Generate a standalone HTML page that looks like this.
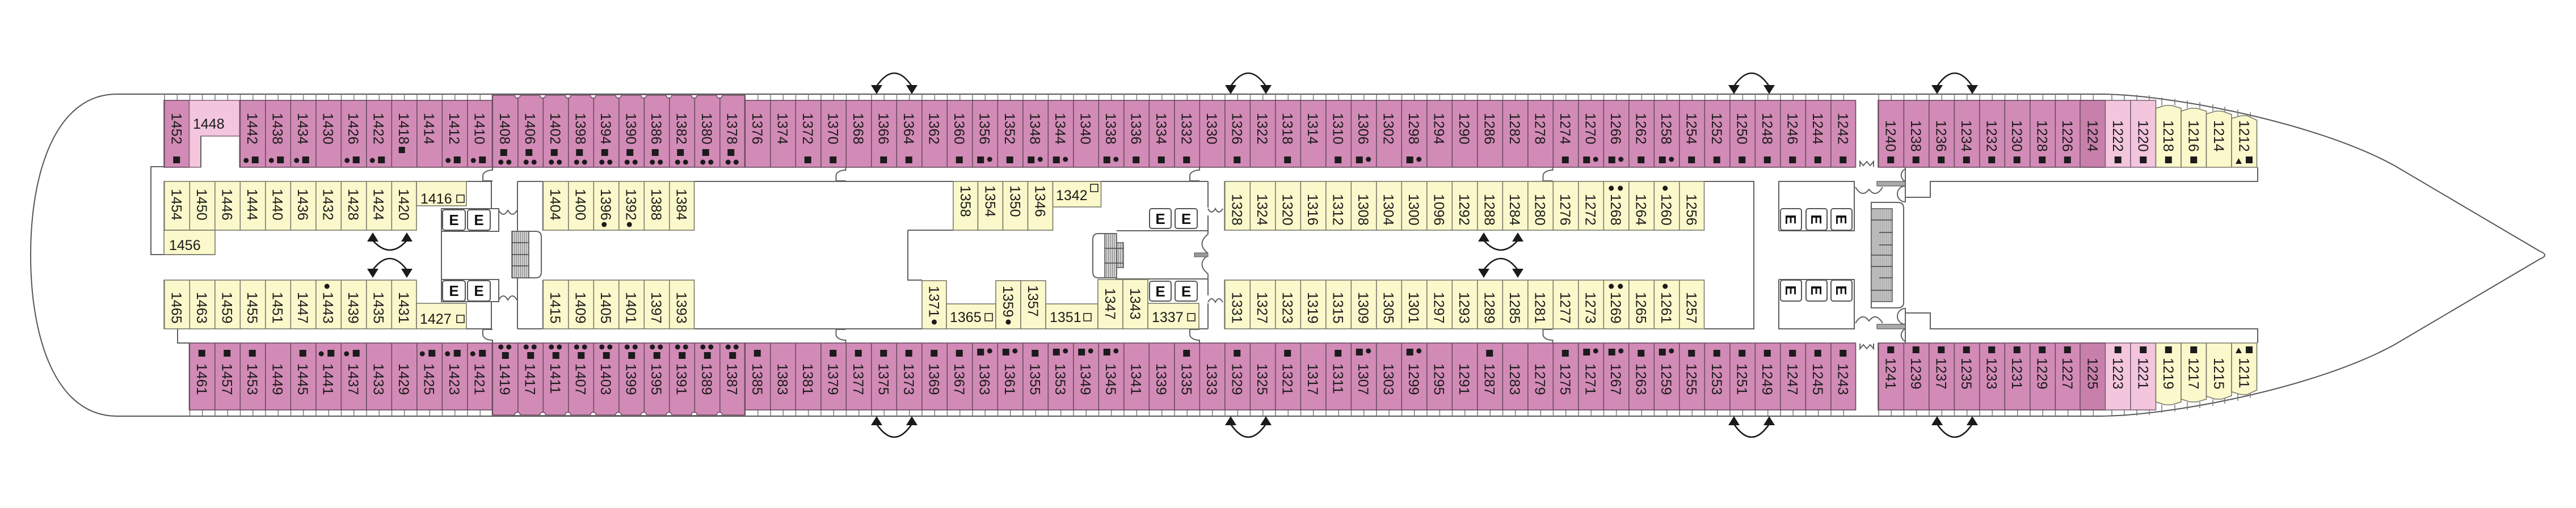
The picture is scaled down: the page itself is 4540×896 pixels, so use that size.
<!DOCTYPE html>
<html><head><meta charset="utf-8"><style>
html,body{margin:0;padding:0;background:#fff}
svg{display:block}
text{font-family:"Liberation Sans",sans-serif;font-size:25px;fill:#1a1a1a}
.ps{stroke:#6a4b5f;stroke-width:1.6}
.lp{fill:#f3c6dd;stroke:#80657a;stroke-width:1.6}
.ys{stroke:#7a796b;stroke-width:1.6}
.yy{fill:#fbf8cb;stroke:#7a796b;stroke-width:1.6}
.w{fill:none;stroke:#606060;stroke-width:2}
.k{fill:#1b1b1b}
.eb{fill:#fff;stroke:#555;stroke-width:2}
.et{font-weight:bold;font-size:26px;fill:#111}
.ar{fill:none;stroke:#1a1a1a;stroke-width:2.6}
.ah{fill:#1a1a1a}
.nt{fill:#fff;stroke:#6a4b5f;stroke-width:1.5}
.sq{fill:none;stroke:#222;stroke-width:1.6}
</style></head><body>
<svg width="4540" height="896" viewBox="0 0 4540 896" xmlns="http://www.w3.org/2000/svg">
<defs>
<pattern id="tk" x="289" y="0" width="22.25" height="20" patternUnits="userSpaceOnUse"><path d="M1 0V20" stroke="#777" stroke-width="1.5"/></pattern>
<pattern id="tkb" x="3310" y="0" width="22.25" height="20" patternUnits="userSpaceOnUse"><path d="M1 0V20" stroke="#777" stroke-width="1.5"/></pattern>
<pattern id="pc" x="289" y="0" width="44.5" height="896" patternUnits="userSpaceOnUse"><rect width="44.5" height="896" fill="#d28bb6"/><path d="M.8 0V896" stroke="#6a4b5f" stroke-width="1.6"/></pattern>
<pattern id="pcb" x="3310" y="0" width="44.5" height="896" patternUnits="userSpaceOnUse"><rect width="44.5" height="896" fill="#d28bb6"/><path d="M.8 0V896" stroke="#6a4b5f" stroke-width="1.6"/></pattern>
<pattern id="yc" x="289" y="0" width="44.5" height="896" patternUnits="userSpaceOnUse"><rect width="44.5" height="896" fill="#fbf8cb"/><path d="M.8 0V896" stroke="#7a796b" stroke-width="1.6"/></pattern>
<pattern id="st" x="0" y="0" width="3.5" height="10" patternUnits="userSpaceOnUse"><rect width="3.5" height="10" fill="#d4d4d4"/><path d="M.5 0V10" stroke="#7a7a7a" stroke-width="1"/></pattern>
</defs>

<!-- hull -->
<path d="M206,166H3700C3820,166 4080,215 4220,292L4476,443Q4494,450 4476,457L4220,608C4080,685 3820,734 3700,734H206C100,734 54,600 54,450C54,300 100,166 206,166Z" fill="#fff" stroke="#555" stroke-width="2"/>

<!-- balcony ticks -->
<rect x="289" y="166" width="2981.5" height="11" fill="url(#tk)"/>
<rect x="3310" y="166" width="400.5" height="11" fill="url(#tkb)"/>
<rect x="333.5" y="723" width="2937" height="11" fill="url(#tk)"/>
<rect x="3310" y="723" width="400.5" height="11" fill="url(#tkb)"/>
<path d="M3722,166V177M3744,166V177M3766,167V177M3788,168V177M3810,172V186M3833,174V186M3855,177V191M3877,180V191M3900,184V196M3921,188V197M3944,193V205M3966,198V207M3722,734V723M3744,734V723M3766,733V723M3788,732V723M3810,728V714M3833,726V714M3855,723V709M3877,720V709M3900,716V704M3921,712V703M3944,707V695M3966,702V693" stroke="#777" stroke-width="1.5" fill="none"/>

<!-- structural lines -->
<path class="w" d="M289,294H266V449H379M313,580V605H333.5
M822,320H866V368M822,580H866V532M778,408V368H879V408H778M778,408V493M778,493H879V532H778Z
M912,320V408M912,490V580M912,320H956.5M912,580H956.5
M1223.5,320H1680M1223.5,580H1625M1600,406H1680M1600,406V494H1625
M1940.5,320H2129M1968,407H2129M1966,492H2129M2113,580H2129
M2129,320V366M2129,380V413M2129,483V521M2129,535V580
M3003.5,320H3091V580H3003.5
M3135,407V320H3268V407H3135M3135,493V580H3268V493H3135
M3358,295V357M3358,543V605M3358,348H3402V320H3979V295M3358,552H3402V580H3979V605
M868,295v5c-9,0-17,4-17,10v9h17M1490.5,295v5c-9,0-17,4-17,10v9h17M2114,295v5c-9,0-17,4-17,10v9h17M2736.5,295v5c-9,0-17,4-17,10v9h17
M868,605v-5c-9,0-17,-4-17,-10v-9h17M1490.5,605v-5c-9,0-17,-4-17,-10v-9h17M2114,605v-5c-9,0-17,-4-17,-10v-9h17M2736.5,605v-5c-9,0-17,-4-17,-10v-9h17
M879,371q8,14 16,0q8,14 16,0M879,529q8,-14 16,0q8,-14 16,0
M2129,368q6,12 13,0q6,12 13,0M2129,533q6,-12 13,0q6,-12 13,0M2129,413Q2108,430 2129,447M2129,450Q2108,466 2129,483
M3270,330q12,20 24,4q12,16 24,-4M3270,570q12,-20 24,-4q12,-16 24,4
M3358,298a12,12 0 0 0 0,22M3358,328a14,14 0 0 0 0,28M3358,544a14,14 0 0 0 0,28M3358,580a12,12 0 0 0 0,22
M3278,294v-9l6,7 6,-7 6,7 6,-7v9M3278,606v9l6,-7 6,7 6,-7 6,7v-9"/>
<rect x="2105" y="446" width="24" height="7" fill="#999" stroke="#555" stroke-width="1"/>
<rect x="3308" y="320" width="50" height="8" fill="#aaa" stroke="#555" stroke-width="1.2"/>
<rect x="3308" y="572" width="50" height="8" fill="#aaa" stroke="#555" stroke-width="1.2"/>

<!-- stairs -->
<path class="w" d="M902,408H944Q954,408 954,418V480Q954,490 944,490H902"/>
<rect x="902" y="408" width="30" height="82" fill="url(#st)" stroke="#555" stroke-width="1.5"/>
<path d="M902,428H932M902,449H932M902,469H932" stroke="#444" stroke-width="1.5"/>
<path class="w" d="M1968,412H1936Q1926,412 1926,422V480Q1926,490 1936,490H1968"/>
<rect x="1947" y="412" width="21" height="78" fill="url(#st)" stroke="#555" stroke-width="1.5"/>
<rect x="1968" y="428" width="12" height="44" fill="url(#st)" stroke="#555" stroke-width="1.5"/>
<path d="M1947,438H1980M1947,464H1980" stroke="#444" stroke-width="1.5"/>
<path class="w" d="M3298,357H3345Q3355,357 3355,367V533Q3355,543 3345,543H3298Z"/>
<rect x="3298" y="368" width="37" height="164" fill="url(#st)" stroke="#555" stroke-width="1.5"/>
<path d="M3298,388H3335M3312,410H3335M3312,432H3335M3298,450H3335M3298,470H3335M3312,490H3335M3298,512H3335" stroke="#444" stroke-width="1.5"/>

<!-- E boxes -->
<g>
<rect class="eb" x="780" y="370" width="40" height="36" rx="4"/><rect class="eb" x="824" y="370" width="40" height="36" rx="4"/>
<rect class="eb" x="780" y="495" width="40" height="36" rx="4"/><rect class="eb" x="824" y="495" width="40" height="36" rx="4"/>
<rect class="eb" x="2026" y="368" width="38" height="35" rx="4"/><rect class="eb" x="2071" y="368" width="39" height="35" rx="4"/>
<rect class="eb" x="2026" y="496" width="38" height="35" rx="4"/><rect class="eb" x="2071" y="496" width="39" height="35" rx="4"/>
<rect class="eb" x="3138" y="368" width="37" height="38" rx="4"/><rect class="eb" x="3183" y="368" width="37" height="38" rx="4"/><rect class="eb" x="3227" y="368" width="37" height="38" rx="4"/>
<rect class="eb" x="3138" y="494" width="37" height="37" rx="4"/><rect class="eb" x="3183" y="494" width="37" height="37" rx="4"/><rect class="eb" x="3227" y="494" width="37" height="37" rx="4"/>
<text class="et" x="800" y="397" text-anchor="middle">E</text><text class="et" x="844" y="397" text-anchor="middle">E</text>
<text class="et" x="800" y="522" text-anchor="middle">E</text><text class="et" x="844" y="522" text-anchor="middle">E</text>
<text class="et" x="2045" y="395" text-anchor="middle">E</text><text class="et" x="2090.5" y="395" text-anchor="middle">E</text>
<text class="et" x="2045" y="523" text-anchor="middle">E</text><text class="et" x="2090.5" y="523" text-anchor="middle">E</text>
<text class="et" transform="translate(3156.5 387)rotate(90)" text-anchor="middle" dy="9.3">E</text>
<text class="et" transform="translate(3201.5 387)rotate(90)" text-anchor="middle" dy="9.3">E</text>
<text class="et" transform="translate(3245.5 387)rotate(90)" text-anchor="middle" dy="9.3">E</text>
<text class="et" transform="translate(3156.5 512)rotate(90)" text-anchor="middle" dy="9.3">E</text>
<text class="et" transform="translate(3201.5 512)rotate(90)" text-anchor="middle" dy="9.3">E</text>
<text class="et" transform="translate(3245.5 512)rotate(90)" text-anchor="middle" dy="9.3">E</text>
</g>

<!-- pink rooms -->
<rect class="ps" x="289" y="177" width="44.5" height="118" fill="url(#pc)"/>
<path class="lp" d="M333.5,177H422.5V240H354V295H333.5Z"/>
<path class="w" d="M354,240V295M422.5,240V295"/>
<rect class="ps" x="422.5" y="177" width="445" height="118" fill="url(#pc)"/>
<rect class="ps" x="867.5" y="168" width="445" height="127" fill="url(#pc)"/>
<rect class="ps" x="1312.5" y="177" width="1958" height="118" fill="url(#pc)"/>
<rect class="ps" x="3310" y="177" width="400.5" height="118" fill="url(#pcb)"/>
<rect class="ps" x="3666" y="177" width="44.5" height="118" fill="#c87fab"/>
<rect class="lp" x="3710.5" y="177" width="44.5" height="118"/>
<rect class="lp" x="3755" y="177" width="44.5" height="118"/>
<polygon class="yy" points="3799.5,295 3799.5,191 3816,186 3827,186 3844,191 3844,295"/>
<polygon class="yy" points="3844,295 3844,196 3860.5,191 3871.5,191 3888.5,196 3888.5,295"/>
<polygon class="yy" points="3888.5,295 3888.5,201 3905,196 3916,196 3933,202 3933,295"/>
<polygon class="yy" points="3933,295 3933,209 3949.5,204 3960.5,204 3977.5,212 3977.5,295"/>

<rect class="ps" x="333.5" y="605" width="534" height="118" fill="url(#pc)"/>
<rect class="ps" x="867.5" y="605" width="445" height="127" fill="url(#pc)"/>
<rect class="ps" x="1312.5" y="605" width="1958" height="118" fill="url(#pc)"/>
<rect class="ps" x="3310" y="605" width="400.5" height="118" fill="url(#pcb)"/>
<rect class="ps" x="3666" y="605" width="44.5" height="118" fill="#c87fab"/>
<rect class="lp" x="3710.5" y="605" width="44.5" height="118"/>
<rect class="lp" x="3755" y="605" width="44.5" height="118"/>
<polygon class="yy" points="3799.5,605 3799.5,709 3816,714 3827,714 3844,709 3844,605"/>
<polygon class="yy" points="3844,605 3844,704 3860.5,709 3871.5,709 3888.5,704 3888.5,605"/>
<polygon class="yy" points="3888.5,605 3888.5,699 3905,704 3916,704 3933,698 3933,605"/>
<polygon class="yy" points="3933,605 3933,691 3949.5,696 3960.5,696 3977.5,688 3977.5,605"/>

<!-- tall room notches -->
<path class="nt" d="M907,168a5,5 0 0 0 10,0M951.5,168a5,5 0 0 0 10,0M996,168a5,5 0 0 0 10,0M1040.5,168a5,5 0 0 0 10,0M1085,168a5,5 0 0 0 10,0M1129.5,168a5,5 0 0 0 10,0M1174,168a5,5 0 0 0 10,0M1218.5,168a5,5 0 0 0 10,0M1263,168a5,5 0 0 0 10,0"/>
<path class="nt" d="M907,732a5,5 0 0 1 10,0M951.5,732a5,5 0 0 1 10,0M996,732a5,5 0 0 1 10,0M1040.5,732a5,5 0 0 1 10,0M1085,732a5,5 0 0 1 10,0M1129.5,732a5,5 0 0 1 10,0M1174,732a5,5 0 0 1 10,0M1218.5,732a5,5 0 0 1 10,0M1263,732a5,5 0 0 1 10,0"/>

<!-- yellow rooms -->
<rect class="ys" x="289" y="320" width="445" height="86" fill="url(#yc)"/>
<rect class="yy" x="734" y="320" width="88" height="43"/>
<rect class="ys" x="956.5" y="320" width="267" height="86" fill="url(#yc)"/>
<rect class="ys" x="2158" y="320" width="845.5" height="86" fill="url(#yc)"/>
<rect class="ys" x="289" y="494" width="445" height="86" fill="url(#yc)"/>
<rect class="yy" x="734" y="535" width="88" height="45"/>
<rect class="ys" x="956.5" y="494" width="267" height="86" fill="url(#yc)"/>
<rect class="ys" x="2158" y="494" width="845.5" height="86" fill="url(#yc)"/>
<rect class="yy" x="289" y="406" width="90" height="43"/>
<rect class="yy" x="1680" y="320" width="43.5" height="86"/>
<rect class="yy" x="1723.5" y="320" width="44" height="86"/>
<rect class="yy" x="1767.5" y="320" width="44" height="86"/>
<rect class="yy" x="1811.5" y="320" width="44" height="86"/>
<rect class="yy" x="1855.5" y="320" width="85" height="45"/>
<rect class="yy" x="1625" y="495" width="43" height="85"/>
<rect class="yy" x="1668" y="536" width="87" height="44"/>
<rect class="yy" x="1755" y="495" width="44" height="85"/>
<rect class="yy" x="1799" y="495" width="44" height="85"/>
<rect class="yy" x="1843" y="536" width="92" height="44"/>
<rect class="yy" x="1935" y="493" width="44" height="87"/>
<rect class="yy" x="1979" y="493" width="44" height="87"/>
<rect class="yy" x="2023" y="535" width="90" height="45"/>

<!-- horizontal labels -->
<text x="340" y="227">1448</text>
<text x="298" y="441">1456</text>
<text x="741" y="359">1416</text><rect class="sq" x="805" y="344" width="13" height="13"/>
<text x="740" y="571">1427</text><rect class="sq" x="805" y="556" width="13" height="13"/>
<text x="1861" y="353">1342</text><rect class="sq" x="1922" y="325" width="13" height="13"/>
<text x="1674" y="568">1365</text><rect class="sq" x="1736" y="553" width="13" height="13"/>
<text x="1850" y="568">1351</text><rect class="sq" x="1910" y="553" width="13" height="13"/>
<text x="2030" y="568">1337</text><rect class="sq" x="2093" y="553" width="13" height="13"/>

<!-- upper pink numbers -->
<g transform="translate(0 199)">
<text transform="translate(302.25)rotate(90)">1452</text>
<text transform="translate(435.75)rotate(90)">1442</text>
<text transform="translate(480.25)rotate(90)">1438</text>
<text transform="translate(524.75)rotate(90)">1434</text>
<text transform="translate(569.25)rotate(90)">1430</text>
<text transform="translate(613.75)rotate(90)">1426</text>
<text transform="translate(658.25)rotate(90)">1422</text>
<text transform="translate(702.75)rotate(90)">1418</text>
<text transform="translate(747.25)rotate(90)">1414</text>
<text transform="translate(791.75)rotate(90)">1412</text>
<text transform="translate(836.25)rotate(90)">1410</text>
<text transform="translate(880.75)rotate(90)">1408</text>
<text transform="translate(925.25)rotate(90)">1406</text>
<text transform="translate(969.75)rotate(90)">1402</text>
<text transform="translate(1014.25)rotate(90)">1398</text>
<text transform="translate(1058.75)rotate(90)">1394</text>
<text transform="translate(1103.25)rotate(90)">1390</text>
<text transform="translate(1147.75)rotate(90)">1386</text>
<text transform="translate(1192.25)rotate(90)">1382</text>
<text transform="translate(1236.75)rotate(90)">1380</text>
<text transform="translate(1281.25)rotate(90)">1378</text>
<text transform="translate(1325.75)rotate(90)">1376</text>
<text transform="translate(1370.25)rotate(90)">1374</text>
<text transform="translate(1414.75)rotate(90)">1372</text>
<text transform="translate(1459.25)rotate(90)">1370</text>
<text transform="translate(1503.75)rotate(90)">1368</text>
<text transform="translate(1548.25)rotate(90)">1366</text>
<text transform="translate(1592.75)rotate(90)">1364</text>
<text transform="translate(1637.25)rotate(90)">1362</text>
<text transform="translate(1681.75)rotate(90)">1360</text>
<text transform="translate(1726.25)rotate(90)">1356</text>
<text transform="translate(1770.75)rotate(90)">1352</text>
<text transform="translate(1815.25)rotate(90)">1348</text>
<text transform="translate(1859.75)rotate(90)">1344</text>
<text transform="translate(1904.25)rotate(90)">1340</text>
<text transform="translate(1948.75)rotate(90)">1338</text>
<text transform="translate(1993.25)rotate(90)">1336</text>
<text transform="translate(2037.75)rotate(90)">1334</text>
<text transform="translate(2082.25)rotate(90)">1332</text>
<text transform="translate(2126.75)rotate(90)">1330</text>
<text transform="translate(2171.25)rotate(90)">1326</text>
<text transform="translate(2215.75)rotate(90)">1322</text>
<text transform="translate(2260.25)rotate(90)">1318</text>
<text transform="translate(2304.75)rotate(90)">1314</text>
<text transform="translate(2349.25)rotate(90)">1310</text>
<text transform="translate(2393.75)rotate(90)">1306</text>
<text transform="translate(2438.25)rotate(90)">1302</text>
<text transform="translate(2482.75)rotate(90)">1298</text>
<text transform="translate(2527.25)rotate(90)">1294</text>
<text transform="translate(2571.75)rotate(90)">1290</text>
<text transform="translate(2616.25)rotate(90)">1286</text>
<text transform="translate(2660.75)rotate(90)">1282</text>
<text transform="translate(2705.25)rotate(90)">1278</text>
<text transform="translate(2749.75)rotate(90)">1274</text>
<text transform="translate(2794.25)rotate(90)">1270</text>
<text transform="translate(2838.75)rotate(90)">1266</text>
<text transform="translate(2883.25)rotate(90)">1262</text>
<text transform="translate(2927.75)rotate(90)">1258</text>
<text transform="translate(2972.25)rotate(90)">1254</text>
<text transform="translate(3016.75)rotate(90)">1252</text>
<text transform="translate(3061.25)rotate(90)">1250</text>
<text transform="translate(3105.75)rotate(90)">1248</text>
<text transform="translate(3150.25)rotate(90)">1246</text>
<text transform="translate(3194.75)rotate(90)">1244</text>
<text transform="translate(3239.25)rotate(90)">1242</text>
</g>
<g transform="translate(0 212)">
<text transform="translate(3323.25)rotate(90)">1240</text>
<text transform="translate(3367.75)rotate(90)">1238</text>
<text transform="translate(3412.25)rotate(90)">1236</text>
<text transform="translate(3456.75)rotate(90)">1234</text>
<text transform="translate(3501.25)rotate(90)">1232</text>
<text transform="translate(3545.75)rotate(90)">1230</text>
<text transform="translate(3590.25)rotate(90)">1228</text>
<text transform="translate(3634.75)rotate(90)">1226</text>
<text transform="translate(3679.25)rotate(90)">1224</text>
<text transform="translate(3723.75)rotate(90)">1222</text>
<text transform="translate(3768.25)rotate(90)">1220</text>
<text transform="translate(3812.75)rotate(90)">1218</text>
<text transform="translate(3857.25)rotate(90)">1216</text>
<text transform="translate(3901.75)rotate(90)">1214</text>
<text transform="translate(3946.25)rotate(90)">1212</text>
</g>

<!-- upper yellow numbers -->
<g transform="translate(0 333)">
<text transform="translate(302.25)rotate(90)">1454</text>
<text transform="translate(346.75)rotate(90)">1450</text>
<text transform="translate(391.25)rotate(90)">1446</text>
<text transform="translate(435.75)rotate(90)">1444</text>
<text transform="translate(480.25)rotate(90)">1440</text>
<text transform="translate(524.75)rotate(90)">1436</text>
<text transform="translate(569.25)rotate(90)">1432</text>
<text transform="translate(613.75)rotate(90)">1428</text>
<text transform="translate(658.25)rotate(90)">1424</text>
<text transform="translate(702.75)rotate(90)">1420</text>
<text transform="translate(969.75)rotate(90)">1404</text>
<text transform="translate(1014.25)rotate(90)">1400</text>
<text transform="translate(1058.75)rotate(90)">1396</text>
<text transform="translate(1103.25)rotate(90)">1392</text>
<text transform="translate(1147.75)rotate(90)">1388</text>
<text transform="translate(1192.25)rotate(90)">1384</text>
</g>
<g transform="translate(0 327)">
<text transform="translate(1692.75)rotate(90)">1358</text>
<text transform="translate(1736.5)rotate(90)">1354</text>
<text transform="translate(1780.5)rotate(90)">1350</text>
<text transform="translate(1824.5)rotate(90)">1346</text>
</g>
<g transform="translate(0 342)">
<text transform="translate(2171.25)rotate(90)">1328</text>
<text transform="translate(2215.75)rotate(90)">1324</text>
<text transform="translate(2260.25)rotate(90)">1320</text>
<text transform="translate(2304.75)rotate(90)">1316</text>
<text transform="translate(2349.25)rotate(90)">1312</text>
<text transform="translate(2393.75)rotate(90)">1308</text>
<text transform="translate(2438.25)rotate(90)">1304</text>
<text transform="translate(2482.75)rotate(90)">1300</text>
<text transform="translate(2527.25)rotate(90)">1096</text>
<text transform="translate(2571.75)rotate(90)">1292</text>
<text transform="translate(2616.25)rotate(90)">1288</text>
<text transform="translate(2660.75)rotate(90)">1284</text>
<text transform="translate(2705.25)rotate(90)">1280</text>
<text transform="translate(2749.75)rotate(90)">1276</text>
<text transform="translate(2794.25)rotate(90)">1272</text>
<text transform="translate(2838.75)rotate(90)">1268</text>
<text transform="translate(2883.25)rotate(90)">1264</text>
<text transform="translate(2927.75)rotate(90)">1260</text>
<text transform="translate(2972.25)rotate(90)">1256</text>
</g>

<!-- lower yellow numbers -->
<g transform="translate(0 515)">
<text transform="translate(302.25)rotate(90)">1465</text>
<text transform="translate(346.75)rotate(90)">1463</text>
<text transform="translate(391.25)rotate(90)">1459</text>
<text transform="translate(435.75)rotate(90)">1455</text>
<text transform="translate(480.25)rotate(90)">1451</text>
<text transform="translate(524.75)rotate(90)">1447</text>
<text transform="translate(569.25)rotate(90)">1443</text>
<text transform="translate(613.75)rotate(90)">1439</text>
<text transform="translate(658.25)rotate(90)">1435</text>
<text transform="translate(702.75)rotate(90)">1431</text>
<text transform="translate(969.75)rotate(90)">1415</text>
<text transform="translate(1014.25)rotate(90)">1409</text>
<text transform="translate(1058.75)rotate(90)">1405</text>
<text transform="translate(1103.25)rotate(90)">1401</text>
<text transform="translate(1147.75)rotate(90)">1397</text>
<text transform="translate(1192.25)rotate(90)">1393</text>
<text transform="translate(2171.25)rotate(90)">1331</text>
<text transform="translate(2215.75)rotate(90)">1327</text>
<text transform="translate(2260.25)rotate(90)">1323</text>
<text transform="translate(2304.75)rotate(90)">1319</text>
<text transform="translate(2349.25)rotate(90)">1315</text>
<text transform="translate(2393.75)rotate(90)">1309</text>
<text transform="translate(2438.25)rotate(90)">1305</text>
<text transform="translate(2482.75)rotate(90)">1301</text>
<text transform="translate(2527.25)rotate(90)">1297</text>
<text transform="translate(2571.75)rotate(90)">1293</text>
<text transform="translate(2616.25)rotate(90)">1289</text>
<text transform="translate(2660.75)rotate(90)">1285</text>
<text transform="translate(2705.25)rotate(90)">1281</text>
<text transform="translate(2749.75)rotate(90)">1277</text>
<text transform="translate(2794.25)rotate(90)">1273</text>
<text transform="translate(2838.75)rotate(90)">1269</text>
<text transform="translate(2883.25)rotate(90)">1265</text>
<text transform="translate(2927.75)rotate(90)">1261</text>
<text transform="translate(2972.25)rotate(90)">1257</text>
</g>
<text transform="translate(1637.5 504)rotate(90)">1371</text>
<text transform="translate(1768 504)rotate(90)">1359</text>
<text transform="translate(1812 503)rotate(90)">1357</text>
<text transform="translate(1948 508)rotate(90)">1347</text>
<text transform="translate(1992 508)rotate(90)">1343</text>

<!-- lower pink numbers -->
<g transform="translate(0 641)">
<text transform="translate(346.75)rotate(90)">1461</text>
<text transform="translate(391.25)rotate(90)">1457</text>
<text transform="translate(435.75)rotate(90)">1453</text>
<text transform="translate(480.25)rotate(90)">1449</text>
<text transform="translate(524.75)rotate(90)">1445</text>
<text transform="translate(569.25)rotate(90)">1441</text>
<text transform="translate(613.75)rotate(90)">1437</text>
<text transform="translate(658.25)rotate(90)">1433</text>
<text transform="translate(702.75)rotate(90)">1429</text>
<text transform="translate(747.25)rotate(90)">1425</text>
<text transform="translate(791.75)rotate(90)">1423</text>
<text transform="translate(836.25)rotate(90)">1421</text>
<text transform="translate(880.75)rotate(90)">1419</text>
<text transform="translate(925.25)rotate(90)">1417</text>
<text transform="translate(969.75)rotate(90)">1411</text>
<text transform="translate(1014.25)rotate(90)">1407</text>
<text transform="translate(1058.75)rotate(90)">1403</text>
<text transform="translate(1103.25)rotate(90)">1399</text>
<text transform="translate(1147.75)rotate(90)">1395</text>
<text transform="translate(1192.25)rotate(90)">1391</text>
<text transform="translate(1236.75)rotate(90)">1389</text>
<text transform="translate(1281.25)rotate(90)">1387</text>
<text transform="translate(1325.75)rotate(90)">1385</text>
<text transform="translate(1370.25)rotate(90)">1383</text>
<text transform="translate(1414.75)rotate(90)">1381</text>
<text transform="translate(1459.25)rotate(90)">1379</text>
<text transform="translate(1503.75)rotate(90)">1377</text>
<text transform="translate(1548.25)rotate(90)">1375</text>
<text transform="translate(1592.75)rotate(90)">1373</text>
<text transform="translate(1637.25)rotate(90)">1369</text>
<text transform="translate(1681.75)rotate(90)">1367</text>
<text transform="translate(1726.25)rotate(90)">1363</text>
<text transform="translate(1770.75)rotate(90)">1361</text>
<text transform="translate(1815.25)rotate(90)">1355</text>
<text transform="translate(1859.75)rotate(90)">1353</text>
<text transform="translate(1904.25)rotate(90)">1349</text>
<text transform="translate(1948.75)rotate(90)">1345</text>
<text transform="translate(1993.25)rotate(90)">1341</text>
<text transform="translate(2037.75)rotate(90)">1339</text>
<text transform="translate(2082.25)rotate(90)">1335</text>
<text transform="translate(2126.75)rotate(90)">1333</text>
<text transform="translate(2171.25)rotate(90)">1329</text>
<text transform="translate(2215.75)rotate(90)">1325</text>
<text transform="translate(2260.25)rotate(90)">1321</text>
<text transform="translate(2304.75)rotate(90)">1317</text>
<text transform="translate(2349.25)rotate(90)">1311</text>
<text transform="translate(2393.75)rotate(90)">1307</text>
<text transform="translate(2438.25)rotate(90)">1303</text>
<text transform="translate(2482.75)rotate(90)">1299</text>
<text transform="translate(2527.25)rotate(90)">1295</text>
<text transform="translate(2571.75)rotate(90)">1291</text>
<text transform="translate(2616.25)rotate(90)">1287</text>
<text transform="translate(2660.75)rotate(90)">1283</text>
<text transform="translate(2705.25)rotate(90)">1279</text>
<text transform="translate(2749.75)rotate(90)">1275</text>
<text transform="translate(2794.25)rotate(90)">1271</text>
<text transform="translate(2838.75)rotate(90)">1267</text>
<text transform="translate(2883.25)rotate(90)">1263</text>
<text transform="translate(2927.75)rotate(90)">1259</text>
<text transform="translate(2972.25)rotate(90)">1255</text>
<text transform="translate(3016.75)rotate(90)">1253</text>
<text transform="translate(3061.25)rotate(90)">1251</text>
<text transform="translate(3105.75)rotate(90)">1249</text>
<text transform="translate(3150.25)rotate(90)">1247</text>
<text transform="translate(3194.75)rotate(90)">1245</text>
<text transform="translate(3239.25)rotate(90)">1243</text>
</g>
<g transform="translate(0 631)">
<text transform="translate(3323.25)rotate(90)">1241</text>
<text transform="translate(3367.75)rotate(90)">1239</text>
<text transform="translate(3412.25)rotate(90)">1237</text>
<text transform="translate(3456.75)rotate(90)">1235</text>
<text transform="translate(3501.25)rotate(90)">1233</text>
<text transform="translate(3545.75)rotate(90)">1231</text>
<text transform="translate(3590.25)rotate(90)">1229</text>
<text transform="translate(3634.75)rotate(90)">1227</text>
<text transform="translate(3679.25)rotate(90)">1225</text>
<text transform="translate(3723.75)rotate(90)">1223</text>
<text transform="translate(3768.25)rotate(90)">1221</text>
<text transform="translate(3812.75)rotate(90)">1219</text>
<text transform="translate(3857.25)rotate(90)">1217</text>
<text transform="translate(3901.75)rotate(90)">1215</text>
<text transform="translate(3946.25)rotate(90)">1211</text>
</g>

<!-- symbols -->
<g class="k">
<g transform="translate(0 276)">
<rect x="305.25" width="12" height="12"/><rect x="1417.75" width="12" height="12"/><rect x="1462.25" width="12" height="12"/><rect x="1551.25" width="12" height="12"/><rect x="1595.75" width="12" height="12"/><rect x="1684.75" width="12" height="12"/><rect x="1773.75" width="12" height="12"/><rect x="1996.25" width="12" height="12"/><rect x="2040.75" width="12" height="12"/><rect x="2085.25" width="12" height="12"/><rect x="2174.25" width="12" height="12"/><rect x="2263.25" width="12" height="12"/><rect x="2352.25" width="12" height="12"/><rect x="2752.75" width="12" height="12"/><rect x="2886.25" width="12" height="12"/><rect x="2975.25" width="12" height="12"/><rect x="3019.75" width="12" height="12"/><rect x="3064.25" width="12" height="12"/><rect x="3108.75" width="12" height="12"/><rect x="3153.25" width="12" height="12"/><rect x="3197.75" width="12" height="12"/><rect x="3242.25" width="12" height="12"/>
<rect x="443.75" width="12" height="12"/><rect x="488.25" width="12" height="12"/><rect x="532.75" width="12" height="12"/><rect x="621.75" width="12" height="12"/><rect x="666.25" width="12" height="12"/><rect x="799.75" width="12" height="12"/><rect x="844.25" width="12" height="12"/>
<rect x="1722.25" width="12" height="12"/><rect x="1811.25" width="12" height="12"/><rect x="1855.75" width="12" height="12"/><rect x="1944.75" width="12" height="12"/><rect x="2389.75" width="12" height="12"/><rect x="2478.75" width="12" height="12"/><rect x="2790.25" width="12" height="12"/><rect x="2834.75" width="12" height="12"/><rect x="2923.75" width="12" height="12"/>
</g>
<circle cx="433.75" cy="283" r="4.5"/><circle cx="478.25" cy="283" r="4.5"/><circle cx="522.75" cy="283" r="4.5"/><circle cx="611.75" cy="283" r="4.5"/><circle cx="656.25" cy="283" r="4.5"/><circle cx="789.75" cy="283" r="4.5"/><circle cx="834.25" cy="283" r="4.5"/>
<circle cx="1744.25" cy="281" r="4.5"/><circle cx="1833.25" cy="281" r="4.5"/><circle cx="1877.75" cy="281" r="4.5"/><circle cx="1966.75" cy="281" r="4.5"/><circle cx="2411.75" cy="281" r="4.5"/><circle cx="2500.75" cy="281" r="4.5"/><circle cx="2812.25" cy="281" r="4.5"/><circle cx="2856.75" cy="281" r="4.5"/><circle cx="2945.75" cy="281" r="4.5"/>
<rect x="702.75" y="259" width="11" height="11"/>
<g transform="translate(0 263)">
<rect x="881.75" width="12" height="12"/><rect x="926.25" width="12" height="12"/><rect x="970.75" width="12" height="12"/><rect x="1015.25" width="12" height="12"/><rect x="1059.75" width="12" height="12"/><rect x="1104.25" width="12" height="12"/><rect x="1148.75" width="12" height="12"/><rect x="1193.25" width="12" height="12"/><rect x="1237.75" width="12" height="12"/><rect x="1282.25" width="12" height="12"/>
</g>
<g transform="translate(0 286)">
<circle cx="882.75" r="4.5"/><circle cx="896.75" r="4.5"/><circle cx="927.25" r="4.5"/><circle cx="941.25" r="4.5"/><circle cx="971.75" r="4.5"/><circle cx="985.75" r="4.5"/><circle cx="1016.25" r="4.5"/><circle cx="1030.25" r="4.5"/><circle cx="1060.75" r="4.5"/><circle cx="1074.75" r="4.5"/><circle cx="1105.25" r="4.5"/><circle cx="1119.25" r="4.5"/><circle cx="1149.75" r="4.5"/><circle cx="1163.75" r="4.5"/><circle cx="1194.25" r="4.5"/><circle cx="1208.25" r="4.5"/><circle cx="1238.75" r="4.5"/><circle cx="1252.75" r="4.5"/><circle cx="1283.25" r="4.5"/><circle cx="1297.25" r="4.5"/>
</g>
<g transform="translate(0 276)">
<rect x="3326.25" width="12" height="12"/><rect x="3370.75" width="12" height="12"/><rect x="3415.25" width="12" height="12"/><rect x="3459.75" width="12" height="12"/><rect x="3504.25" width="12" height="12"/><rect x="3548.75" width="12" height="12"/><rect x="3593.25" width="12" height="12"/><rect x="3637.75" width="12" height="12"/><rect x="3726.75" width="12" height="12"/><rect x="3771.25" width="12" height="12"/><rect x="3815.75" width="12" height="12"/><rect x="3860.25" width="12" height="12"/><rect x="3958" width="12" height="12"/>
</g>
<polygon points="3940,289 3951,289 3945.5,279"/>
<circle cx="1064.75" cy="396" r="4.5"/><circle cx="1109.25" cy="396" r="4.5"/>
<circle cx="2839.75" cy="332" r="4.5"/><circle cx="2855.75" cy="332" r="4.5"/><circle cx="2934.75" cy="332" r="4.5"/>
<circle cx="576.25" cy="505" r="4.5"/><circle cx="2839.75" cy="505" r="4.5"/><circle cx="2855.75" cy="505" r="4.5"/><circle cx="2934.75" cy="505" r="4.5"/>
<circle cx="1646.5" cy="568" r="4.5"/><circle cx="1777" cy="568" r="4.5"/>
<g transform="translate(0 617)">
<rect x="349.75" width="12" height="12"/><rect x="394.25" width="12" height="12"/><rect x="438.75" width="12" height="12"/><rect x="527.75" width="12" height="12"/><rect x="1328.75" width="12" height="12"/><rect x="1462.25" width="12" height="12"/><rect x="1506.75" width="12" height="12"/><rect x="1551.25" width="12" height="12"/><rect x="1595.75" width="12" height="12"/><rect x="1640.25" width="12" height="12"/><rect x="1684.75" width="12" height="12"/><rect x="1818.25" width="12" height="12"/><rect x="2085.25" width="12" height="12"/><rect x="2174.25" width="12" height="12"/><rect x="2263.25" width="12" height="12"/><rect x="2352.25" width="12" height="12"/><rect x="2619.25" width="12" height="12"/><rect x="2752.75" width="12" height="12"/><rect x="2886.25" width="12" height="12"/><rect x="2975.25" width="12" height="12"/><rect x="3019.75" width="12" height="12"/><rect x="3064.25" width="12" height="12"/><rect x="3108.75" width="12" height="12"/><rect x="3153.25" width="12" height="12"/><rect x="3197.75" width="12" height="12"/><rect x="3242.25" width="12" height="12"/>
<rect x="577.25" width="12" height="12"/><rect x="621.75" width="12" height="12"/><rect x="755.25" width="12" height="12"/><rect x="799.75" width="12" height="12"/><rect x="844.25" width="12" height="12"/>
</g>
<circle cx="566.25" cy="624" r="4.5"/><circle cx="610.75" cy="624" r="4.5"/><circle cx="744.25" cy="624" r="4.5"/><circle cx="788.75" cy="624" r="4.5"/><circle cx="833.25" cy="624" r="4.5"/>
<g transform="translate(0 615)">
<rect x="1722.25" width="12" height="12"/><rect x="1766.75" width="12" height="12"/><rect x="1855.75" width="12" height="12"/><rect x="1900.25" width="12" height="12"/><rect x="1944.75" width="12" height="12"/><rect x="2389.75" width="12" height="12"/><rect x="2478.75" width="12" height="12"/><rect x="2790.25" width="12" height="12"/><rect x="2834.75" width="12" height="12"/><rect x="2923.75" width="12" height="12"/>
</g>
<g transform="translate(0 619)">
<circle cx="1744.25" r="4.5"/><circle cx="1788.75" r="4.5"/><circle cx="1877.75" r="4.5"/><circle cx="1922.25" r="4.5"/><circle cx="1966.75" r="4.5"/><circle cx="2411.75" r="4.5"/><circle cx="2500.75" r="4.5"/><circle cx="2812.25" r="4.5"/><circle cx="2856.75" r="4.5"/><circle cx="2945.75" r="4.5"/>
</g>
<g transform="translate(0 612)">
<circle cx="882.75" r="4.5"/><circle cx="896.75" r="4.5"/><circle cx="927.25" r="4.5"/><circle cx="941.25" r="4.5"/><circle cx="971.75" r="4.5"/><circle cx="985.75" r="4.5"/><circle cx="1016.25" r="4.5"/><circle cx="1030.25" r="4.5"/><circle cx="1060.75" r="4.5"/><circle cx="1074.75" r="4.5"/><circle cx="1105.25" r="4.5"/><circle cx="1119.25" r="4.5"/><circle cx="1149.75" r="4.5"/><circle cx="1163.75" r="4.5"/><circle cx="1194.25" r="4.5"/><circle cx="1208.25" r="4.5"/><circle cx="1238.75" r="4.5"/><circle cx="1252.75" r="4.5"/><circle cx="1283.25" r="4.5"/><circle cx="1297.25" r="4.5"/>
</g>
<g transform="translate(0 621)">
<rect x="884.75" width="12" height="12"/><rect x="929.25" width="12" height="12"/><rect x="973.75" width="12" height="12"/><rect x="1018.25" width="12" height="12"/><rect x="1062.75" width="12" height="12"/><rect x="1107.25" width="12" height="12"/><rect x="1151.75" width="12" height="12"/><rect x="1196.25" width="12" height="12"/><rect x="1240.75" width="12" height="12"/><rect x="1285.25" width="12" height="12"/>
</g>
<g transform="translate(0 611)">
<rect x="3326.25" width="12" height="12"/><rect x="3370.75" width="12" height="12"/><rect x="3415.25" width="12" height="12"/><rect x="3459.75" width="12" height="12"/><rect x="3504.25" width="12" height="12"/><rect x="3548.75" width="12" height="12"/><rect x="3593.25" width="12" height="12"/><rect x="3637.75" width="12" height="12"/><rect x="3726.75" width="12" height="12"/><rect x="3771.25" width="12" height="12"/><rect x="3815.75" width="12" height="12"/><rect x="3860.25" width="12" height="12"/><rect x="3958" width="12" height="12"/>
</g>
<polygon points="3940,623 3951,623 3945.5,613"/>
</g>

<!-- arrows -->
<g>
<path class="ar" d="M1545,152Q1576,106 1607,152M2169,152Q2200,106 2231,152M3056,152Q3087,106 3118,152M3414,152Q3445,106 3476,152"/>
<path class="ar" d="M1545,748Q1576,794 1607,748M2169,748Q2200,794 2231,748M3056,748Q3087,794 3118,748M3414,748Q3445,794 3476,748"/>
<path class="ar" d="M657,424Q687,458 717,424M657,476Q687,436 717,476M2615,424Q2645,458 2675,424M2615,476Q2645,436 2675,476"/>
<g class="ah">
<polygon points="1535,150 1555,150 1545,166"/><polygon points="1597,150 1617,150 1607,166"/>
<polygon points="2159,150 2179,150 2169,166"/><polygon points="2221,150 2241,150 2231,166"/>
<polygon points="3046,150 3066,150 3056,166"/><polygon points="3108,150 3128,150 3118,166"/>
<polygon points="3404,150 3424,150 3414,166"/><polygon points="3466,150 3486,150 3476,166"/>
<polygon points="1535,750 1555,750 1545,734"/><polygon points="1597,750 1617,750 1607,734"/>
<polygon points="2159,750 2179,750 2169,734"/><polygon points="2221,750 2241,750 2231,734"/>
<polygon points="3046,750 3066,750 3056,734"/><polygon points="3108,750 3128,750 3118,734"/>
<polygon points="3404,750 3424,750 3414,734"/><polygon points="3466,750 3486,750 3476,734"/>
<polygon points="647,426 667,426 657,410"/><polygon points="707,426 727,426 717,410"/>
<polygon points="647,474 667,474 657,490"/><polygon points="707,474 727,474 717,490"/>
<polygon points="2605,426 2625,426 2615,410"/><polygon points="2665,426 2685,426 2675,410"/>
<polygon points="2605,474 2625,474 2615,490"/><polygon points="2665,474 2685,474 2675,490"/>
</g>
</g>
</svg>
</body></html>
